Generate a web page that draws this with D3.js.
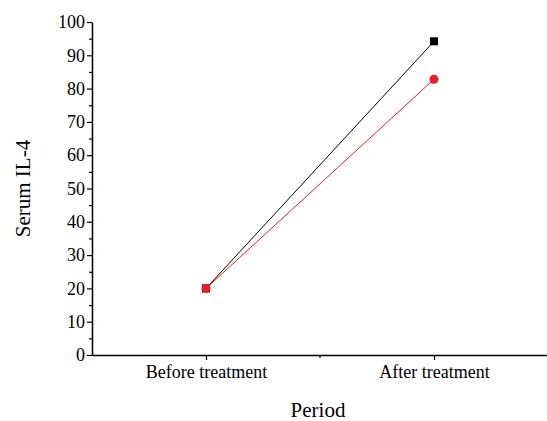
<!DOCTYPE html>
<html>
<head>
<meta charset="utf-8">
<script src="https://cdn.jsdelivr.net/npm/d3@7"></script>
<style>
  body { margin: 0; background: #fff; }
  svg text { font-family: "Liberation Serif", "DejaVu Serif", serif !important; }
</style>
</head>
<body>
<svg id="chart"></svg>
<script>
const periods = ["Before treatment", "After treatment"];
const seriesBlack = [20, 94.2];
const seriesRed = [20, 82.8];
const yTicks = [0, 10, 20, 30, 40, 50, 60, 70, 80, 90, 100];

const width = 547;
const height = 421;
const plotLeft = 92, plotRight = 548, plotTop = 22, plotBottom = 355;
const serif = "Liberation Serif";

const svg = d3.select("#chart")
              .attr("width", width)
              .attr("height", height);

const xScale = d3.scalePoint()
                 .domain(periods)
                 .range([plotLeft, plotRight])
                 .padding(0.5);

const yScale = d3.scaleLinear()
                 .domain([0, 100])
                 .range([plotBottom, plotTop]);

// minor ticks
svg.append("g")
   .attr("transform", `translate(${plotLeft},0)`)
   .call(d3.axisLeft(yScale).tickValues(d3.range(5, 100, 10)).tickSize(3).tickFormat(""))
   .call(g => g.select(".domain").remove())
   .selectAll("line").attr("stroke-width", 1.2);

// minor tick between the two periods
const xMid = (xScale(periods[0]) + xScale(periods[1])) / 2;
svg.append("line")
   .attr("x1", xMid).attr("x2", xMid)
   .attr("y1", plotBottom).attr("y2", plotBottom + 3)
   .attr("stroke", "#000")
   .attr("stroke-width", 1.2);

const yAxis = svg.append("g")
   .attr("transform", `translate(${plotLeft},0)`)
   .call(d3.axisLeft(yScale).tickValues(yTicks).tickSize(5).tickSizeOuter(0).tickPadding(2));
yAxis.attr("font-family", serif);
yAxis.select(".domain").attr("stroke-width", 1.5);
yAxis.selectAll("line").attr("stroke-width", 1.2);
yAxis.selectAll("text").attr("font-size", 18).attr("font-family", serif).attr("fill", "#000");

const xAxis = svg.append("g")
   .attr("transform", `translate(0,${plotBottom})`)
   .call(d3.axisBottom(xScale).tickSize(5).tickSizeOuter(0).tickPadding(5));
xAxis.attr("font-family", serif);
xAxis.select(".domain").attr("stroke-width", 1.5);
xAxis.selectAll("line").attr("stroke-width", 1.2);
xAxis.selectAll("text").attr("font-size", 18).attr("font-family", serif).attr("fill", "#000");

svg.append("text")
   .attr("transform", `translate(30,${(plotTop + plotBottom) / 2}) rotate(-90)`)
   .attr("text-anchor", "middle")
   .attr("font-family", serif)
   .attr("font-size", 21)
   .text("Serum IL-4");

svg.append("text")
   .attr("x", 318)
   .attr("y", 417)
   .attr("text-anchor", "middle")
   .attr("font-family", serif)
   .attr("font-size", 21)
   .text("Period");

const line = d3.line()
               .x((d, i) => xScale(periods[i]))
               .y(d => yScale(d));

svg.append("path")
   .datum(seriesBlack)
   .attr("fill", "none")
   .attr("stroke", "#000")
   .attr("stroke-width", 1)
   .attr("d", line);

svg.selectAll(".sq")
   .data(seriesBlack)
   .enter()
   .append("rect")
   .attr("class", "sq")
   .attr("x", (d, i) => xScale(periods[i]) - 4)
   .attr("y", d => yScale(d) - 4)
   .attr("width", 8)
   .attr("height", 8)
   .attr("fill", "#000");

svg.append("path")
   .datum(seriesRed)
   .attr("fill", "none")
   .attr("stroke", "#ee1c25")
   .attr("stroke-width", 1)
   .attr("d", line);

svg.selectAll(".dot")
   .data(seriesRed)
   .enter()
   .append("circle")
   .attr("class", "dot")
   .attr("cx", (d, i) => xScale(periods[i]))
   .attr("cy", d => yScale(d))
   .attr("r", 4.5)
   .attr("fill", "#ee1c25");
</script>
</body>
</html>
